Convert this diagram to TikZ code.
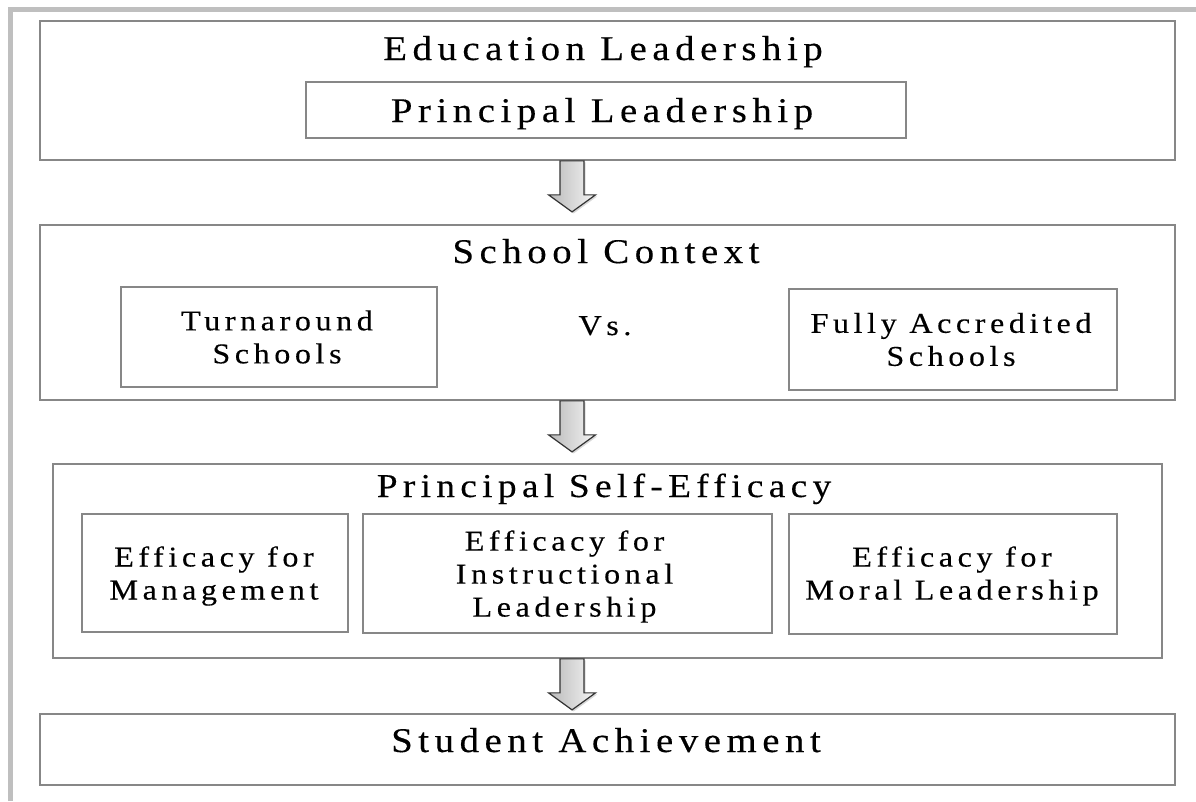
\documentclass[tikz,border=0pt]{standalone}
\usepackage{fontspec}
\setmainfont{Liberation Serif}[LetterSpace=16,FakeStretch=1.12,FakeBold=0.3]
\usetikzlibrary{calc,shadows,fit}
\newcommand\blockarr[2]{%
  \path[blockarrow] let \p1=(#1.south), \p2=(#2.north) in
    ({\x1-26.6pt-9pt},\y1) -- ({\x1-26.6pt+9pt},\y1)
    -- ({\x1-26.6pt+9pt},{\y1-25.5pt}) -- ({\x1-26.6pt+17.6pt},{\y1-25.5pt})
    -- ({\x1-26.6pt},{\y1-38.25pt})
    -- ({\x1-26.6pt-17.6pt},{\y1-25.5pt}) -- ({\x1-26.6pt-9pt},{\y1-25.5pt}) -- cycle;}
\begin{document}
\begin{tikzpicture}[x=0.75pt,y=-0.75pt,
  box/.style={draw=black!47, line width=1.3pt, inner sep=0pt, fill=white},
  title/.style={font=\fontsize{26}{30}\selectfont, inner sep=0pt, anchor=base},
  sub/.style={font=\fontsize{21.5}{24.75}\selectfont\addfontfeature{LetterSpace=16}, align=center, inner sep=0pt},
  blockarrow/.style={draw=black!80, line width=0.9pt, left color=gray!55, right color=gray!8,
    drop shadow={opacity=0.3, shadow xshift=1.2pt, shadow yshift=-1.2pt}}]
\useasboundingbox (0,0) rectangle (1196,801);
\fill[white] (0,0) rectangle (1196,801);
\draw[gray!50, line width=3.75pt] (10,801) -- (10,9.5) -- (1196,9.5);

% boxes
\node[box, fit={(40,21) (1175,160)}] (b1) {};
\node[box, fit={(306,82) (906,138)}] (pl) {};
\node[box, fit={(40,225) (1175,400)}] (b2) {};
\node[box, fit={(121,287) (437,387)}] (ta) {};
\node[box, fit={(789,289) (1117,390)}] (fa) {};
\node[box, fit={(53,464) (1162,658)}] (b3) {};
\node[box, fit={(82,514) (348,632)}] (em) {};
\node[box, fit={(363,514) (772,633)}] (ei) {};
\node[box, fit={(789,514) (1117,634)}] (ml) {};
\node[box, fit={(40,714) (1175,785)}] (b4) {};

% titles
\node[title] (t1) at (603,60) {Education Leadership};
\node[title] (tpl) at (602,122) {Principal Leadership};
\node[title] (t2) at (606,263) {School Context};
\node[sub, anchor=base] (vs) at (605,335) {Vs.};
\node[title, font=\fontsize{25}{29}\selectfont] (t3) at (604,497) {Principal Self-Efficacy};
\node[title] (t4) at (606,752) {Student Achievement};

% sub texts
\node[sub] (tta) at ($(ta.center)+(-2,0)$) {Turnaround\\Schools};
\node[sub] (tfa) at ($(fa.center)+(-2,0)$) {Fully Accredited\\Schools};
\node[sub] (tem) at ($(em.center)+(-1,3)$) {Efficacy for\\Management};
\node[sub] (tei) at ($(ei.center)+(-3,3)$) {Efficacy for\\Instructional\\Leadership};
\node[sub] (tml) at ($(ml.center)+(-1,2)$) {Efficacy for\\Moral Leadership};

% arrows
\blockarr{b1}{b2}
\blockarr{b2}{b3}
\blockarr{b3}{b4}
\end{tikzpicture}
\end{document}
